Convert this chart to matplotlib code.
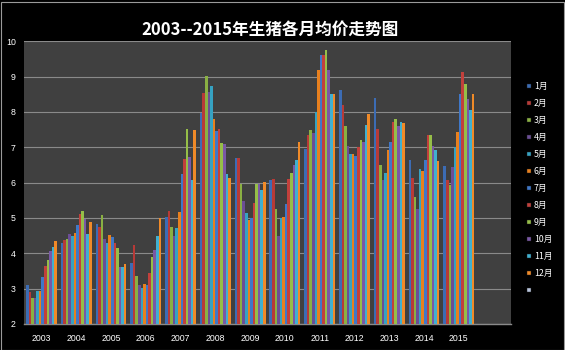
import matplotlib
matplotlib.use("Agg")
import matplotlib.pyplot as plt
from matplotlib.patches import Rectangle
import numpy as np

plt.rcParams['font.family'] = ['Noto Sans CJK SC', 'DejaVu Sans']

# Category labels (last slot is an empty category)
years = ["2003", "2004", "2005", "2006", "2007", "2008", "2009",
         "2010", "2011", "2012", "2013", "2014", "2015", ""]
months = ["1月", "2月", "3月", "4月", "5月", "6月",
          "7月", "8月", "9月", "10月", "11月", "12月"]
legend_labels = months + [""]

# Monthly average prices, one list per year (Jan..Dec)
y2003 = [3.11, 2.90, 2.73, 2.72, 2.93, 2.93, 3.33, 3.65, 3.81, 4.05, 4.17, 4.35]
y2004 = [4.28, 4.37, 4.39, 4.55, 4.49, 4.56, 4.81, 5.12, 5.19, 4.97, 4.53, 4.87]
y2005 = [4.83, 4.75, 5.07, 4.39, 4.30, 4.51, 4.45, 4.29, 4.16, 3.62, 3.62, 3.70]
y2006 = [3.71, 4.22, 3.35, 3.11, 3.01, 3.14, 3.11, 3.45, 3.90, 4.08, 4.50, 4.99]
y2007 = [5.02, 5.20, 4.74, 4.48, 4.72, 5.17, 6.23, 6.67, 7.53, 6.73, 6.07, 7.50]
y2008 = [7.96, 8.53, 9.01, 8.56, 8.75, 7.81, 7.45, 7.51, 7.11, 7.08, 6.25, 6.12]
y2009 = [6.71, 6.71, 5.97, 5.48, 5.15, 4.95, 5.00, 5.43, 5.95, 5.95, 5.78, 6.02]
y2010 = [6.07, 6.11, 5.26, 4.50, 5.00, 5.03, 5.40, 6.11, 6.28, 6.51, 6.65, 7.16]
y2011 = [6.94, 7.36, 7.48, 7.41, 8.00, 9.18, 9.62, 9.62, 9.75, 9.18, 8.50, 8.52]
y2012 = [8.61, 8.20, 7.59, 7.03, 6.81, 6.81, 6.75, 7.00, 7.22, 7.15, 7.64, 7.93]
y2013 = [8.40, 7.52, 6.49, 6.06, 6.26, 6.91, 7.16, 7.73, 7.81, 7.61, 7.73, 7.70]
y2014 = [6.65, 6.12, 5.58, 5.24, 6.39, 6.32, 6.63, 7.35, 7.34, 7.03, 6.91, 6.61]
y2015 = [6.48, 6.07, 5.92, 6.43, 7.00, 7.43, 8.50, 9.12, 8.80, 8.36, 8.05, 8.52]

yearly = [y2003, y2004, y2005, y2006, y2007, y2008, y2009,
          y2010, y2011, y2012, y2013, y2014, y2015]

colors = ['#3C6CB4', '#B83A37', '#8AB043', '#6B4E96', '#36A2C2', '#E8801E',
          '#3F78C8', '#C2403C', '#96BE48', '#7A58A6', '#40B0D0', '#F08A28',
          '#B8C4DC']

W, H = 565, 350
fig = plt.figure(figsize=(W / 100, H / 100), dpi=100, facecolor='black')

px_l, px_r, px_t, px_b = 24, 511, 41.4, 323.8
ax = fig.add_axes([px_l / W, 1 - px_b / H, (px_r - px_l) / W, (px_b - px_t) / H])
ax.set_facecolor('#404040')

data = np.array(yearly)          # shape (13 years, 12 months)
n_cat = len(years)
x = np.arange(n_cat)
bw = 1 / 13.5                    # 12 bars + 150% gap per category
for m in range(12):
    offs = (m - 5.5) * bw
    ax.bar(x[:data.shape[0]] + offs, data[:, m], width=bw,
           color=colors[m], linewidth=0, zorder=3)

ax.set_xlim(-0.5, n_cat - 0.5)
ax.set_ylim(2, 10)
ax.set_yticks(np.arange(2, 11, 1))
ax.set_xticks(x)
ax.set_xticklabels(years)
ax.grid(axis='y', color='#8a8a8a', linewidth=0.8, zorder=1)
ax.tick_params(axis='both', length=0, colors='white', labelsize=6.3)
ax.tick_params(axis='x', pad=7.5)
ax.tick_params(axis='y', pad=6)
for lab in ax.get_xticklabels() + ax.get_yticklabels():
    lab.set_family(['Liberation Sans', 'DejaVu Sans'])
for side in ['top', 'right', 'left']:
    ax.spines[side].set_visible(False)
ax.spines['bottom'].set_color('#8a8a8a')
ax.spines['bottom'].set_linewidth(1.0)

fig.text(270 / W, 1 - 30 / H, "2003--2015年生猪各月均价走势图",
         color='white', fontsize=12, fontweight='bold',
         ha='center', va='center')

# Legend column on the right
for i, (lab, col) in enumerate(zip(legend_labels, colors)):
    yc = 86 + 17 * i
    fig.add_artist(Rectangle((526.5 / W, 1 - (yc + 2.2) / H), 4.2 / W, 4.4 / H,
                             transform=fig.transFigure, facecolor=col,
                             edgecolor='#202020', linewidth=0.3))
    fig.text(534 / W, 1 - yc / H, lab, color='white', fontsize=6.3,
             ha='left', va='center')

# Thin frame around the chart
fig.add_artist(Rectangle((0.5 / W, 0.5 / H), (W - 1.5) / W, (H - 2.5) / H,
                         transform=fig.transFigure, facecolor='none',
                         edgecolor='#9a9a9a', linewidth=0.8))

fig.savefig("out.png", dpi=100, facecolor='black')
